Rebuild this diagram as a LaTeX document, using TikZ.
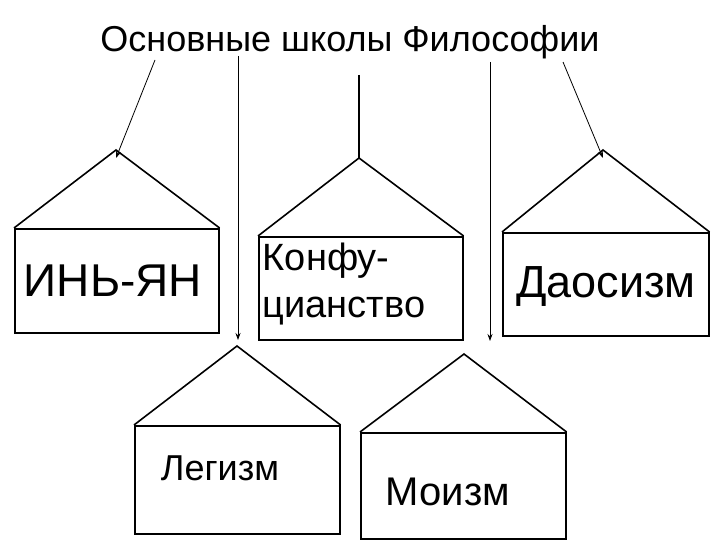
\documentclass[tikz,border=0pt]{standalone}
\usepackage{fontspec}
\setmainfont{Liberation Sans}
\usetikzlibrary{arrows.meta}
\begin{document}
\begin{tikzpicture}[x=1pt,y=-1pt,line width=1.6pt,
  wall/.style={draw,rectangle,anchor=north west,inner sep=0pt},
  conn/.style={line width=0.8pt,-{Stealth[length=7pt,width=5pt]}},
  lbl/.style={inner sep=0pt}]
\useasboundingbox (0,0) rectangle (720,540);
\node[lbl,font=\fontsize{36}{40}\selectfont] (title) at (350,42) {Основные школы Философии};
% houses
\node[wall,minimum width=204pt,minimum height=104pt] (h1) at (14,228) {};
\coordinate (a1) at (116,150);
\node[wall,minimum width=204pt,minimum height=103pt] (h2) at (258,236) {};
\coordinate (a2) at (359,158);
\node[wall,minimum width=206pt,minimum height=103pt] (h3) at (502,232) {};
\coordinate (a3) at (603,150);
\node[wall,minimum width=205pt,minimum height=108pt] (h4) at (134,425) {};
\coordinate (a4) at (237,346);
\node[wall,minimum width=205pt,minimum height=106pt] (h5) at (360,432) {};
\coordinate (a5) at (464,354);
\foreach \i in {1,...,5}{\draw (h\i.north west) -- (a\i) -- (h\i.north east);}
% labels
\node[lbl,font=\fontsize{46}{50}\selectfont] (t1) at (113,281) {ИНЬ-ЯН};
\node[lbl,font=\fontsize{38}{47}\selectfont,align=left,anchor=north west] (t2) at (262,242) {Конфу-\\цианство};
\node[lbl,font=\fontsize{45}{50}\selectfont] (t3) at (606,287) {Даосизм};
\node[lbl,font=\fontsize{36}{40}\selectfont] (t4) at (220,468) {Легизм};
\node[lbl,font=\fontsize{40}{44}\selectfont] (t5) at (448,492) {Моизм};
% connectors
\coordinate (s1) at (155,60);
\coordinate (s2) at (238,56);
\coordinate (s3) at (359,75);
\coordinate (s4) at (490,62);
\coordinate (s5) at (563,62);
\coordinate (e2) at (238,340);
\coordinate (e4) at (490,341);
\draw[conn] (s1) -- ([yshift=-8pt]a1);
\draw[conn] (s2) -- (e2);
\draw[line width=1.6pt] (s3) -- (a2);
\draw[conn] (s4) -- (e4);
\draw[conn] (s5) -- ([yshift=-8pt]a3);
\end{tikzpicture}
\end{document}
